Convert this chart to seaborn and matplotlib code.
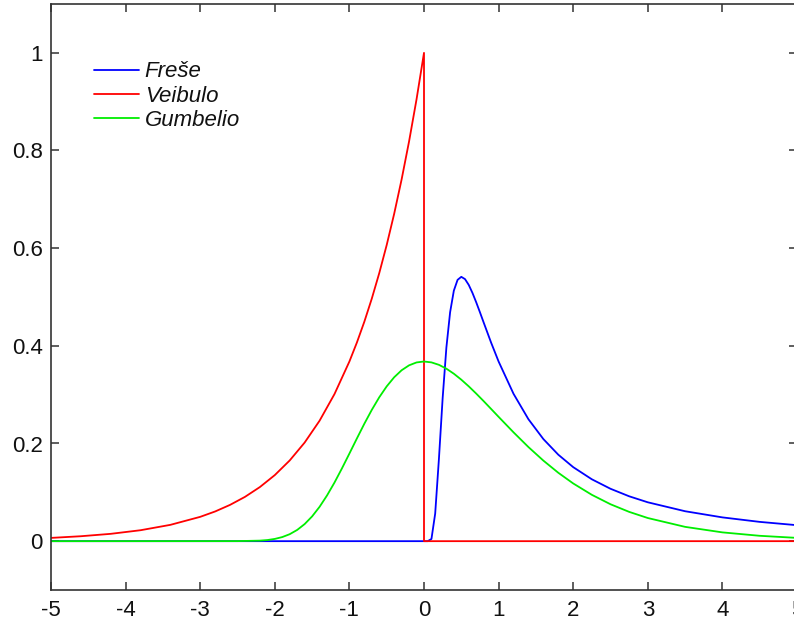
import matplotlib
matplotlib.use("Agg")
import matplotlib.pyplot as plt
import seaborn as sns
import pandas as pd

# ---- data ----
frechet_x = [-5, 0, 0.05, 0.1, 0.15, 0.2, 0.25, 0.3, 0.35, 0.4, 0.45, 0.5, 0.55, 0.6,
             0.65, 0.7, 0.75, 0.8, 0.9, 1.0, 1.2, 1.4, 1.6, 1.8, 2.0, 2.25, 2.5, 2.75,
             3.0, 3.5, 4.0, 4.5, 5.0]
frechet_y = [0, 0, 0.0, 0.0045, 0.0566, 0.1684, 0.2930, 0.3964, 0.4688, 0.5130, 0.5351,
             0.5413, 0.5366, 0.5247, 0.5082, 0.4891, 0.4687, 0.4477, 0.4064, 0.3679,
             0.3018, 0.2497, 0.2091, 0.1771, 0.1516, 0.1267, 0.1073, 0.0919, 0.0796,
             0.0613, 0.0487, 0.0395, 0.0327]

weibull_x = [-5, -4.6, -4.2, -3.8, -3.4, -3.0, -2.8, -2.6, -2.4, -2.2, -2.0, -1.8, -1.6,
             -1.4, -1.2, -1.0, -0.9, -0.8, -0.7, -0.6, -0.5, -0.4, -0.3, -0.2, -0.1,
             0.0, 0.0, 5.0]
weibull_y = [0.0067, 0.0101, 0.0150, 0.0224, 0.0334, 0.0498, 0.0608, 0.0743, 0.0907,
             0.1108, 0.1353, 0.1653, 0.2019, 0.2466, 0.3012, 0.3679, 0.4066, 0.4493,
             0.4966, 0.5488, 0.6065, 0.6703, 0.7408, 0.8187, 0.9048, 1.0, 0.0, 0.0]

gumbel_x = [-5, -2.5, -2.2, -2.1, -2.0, -1.9, -1.8, -1.7, -1.6, -1.5, -1.4, -1.3, -1.2,
            -1.1, -1.0, -0.9, -0.8, -0.7, -0.6, -0.5, -0.4, -0.3, -0.2, -0.1, 0.0, 0.1,
            0.2, 0.3, 0.4, 0.5, 0.6, 0.7, 0.8, 0.9, 1.0, 1.2, 1.4, 1.6, 1.8, 2.0, 2.25,
            2.5, 2.75, 3.0, 3.5, 4.0, 4.5, 5.0]
gumbel_y = [0.0, 0.0001, 0.0011, 0.0023, 0.0046, 0.0084, 0.0143, 0.0230, 0.0350, 0.0507,
            0.0703, 0.0936, 0.1200, 0.1490, 0.1794, 0.2102, 0.2404, 0.2688, 0.2946,
            0.3170, 0.3356, 0.3500, 0.3601, 0.3660, 0.3679, 0.3661, 0.3611, 0.3532,
            0.3429, 0.3307, 0.3170, 0.3022, 0.2867, 0.2707, 0.2546, 0.2229, 0.1927,
            0.1650, 0.1401, 0.1182, 0.0949, 0.0756, 0.0600, 0.0474, 0.0293, 0.0180,
            0.0110, 0.0067]

labels = ["Freše", "Veibulo", "Gumbelio"]
colors = ["#0000ff", "#ff0000", "#00ee00"]
x_ticks = [-5, -4, -3, -2, -1, 0, 1, 2, 3, 4, 5]
y_ticks = [0, 0.2, 0.4, 0.6, 0.8, 1]

# ---- plotting ----
sns.set_style("ticks")
plt.rcParams["font.family"] = ["Liberation Sans", "DejaVu Sans"]
plt.rcParams["axes.unicode_minus"] = False

fig = plt.figure(figsize=(7.94, 6.23), dpi=100)
ax = fig.add_axes([51 / 794, 33 / 623, 746 / 794, 586 / 623])

series = [(frechet_x, frechet_y), (weibull_x, weibull_y), (gumbel_x, gumbel_y)]
for (xs, ys), lab, col in zip(series, labels, colors):
    df = pd.DataFrame({"x": xs, "y": ys})
    sns.lineplot(data=df, x="x", y="y", ax=ax, color=col, lw=1.3,
                 sort=False, estimator=None, label=lab)

ax.set_xlim(-5, 5)
ax.set_ylim(-0.1, 1.1)
ax.set_xticks(x_ticks)
ax.set_xticklabels([str(t) for t in x_ticks])
ax.set_yticks(y_ticks)
ax.set_yticklabels(["0", "0.2", "0.4", "0.6", "0.8", "1"])
ax.set_xlabel("")
ax.set_ylabel("")

for sp in ax.spines.values():
    sp.set_visible(True)
    sp.set_color("#333333")
    sp.set_linewidth(1.2)

ax.tick_params(axis="both", direction="in", length=6, width=1.1, color="#333333",
               labelsize=16, labelcolor="#111111", top=True, right=True)
ax.tick_params(axis="x", pad=7)
ax.tick_params(axis="y", pad=6)

leg = ax.legend(loc="upper left", bbox_to_anchor=(0.057, 0.902), frameon=False,
                borderpad=0, borderaxespad=0, handlelength=2.05, handletextpad=0.25,
                labelspacing=0.15, prop={"style": "italic", "size": 16})
for t in leg.get_texts():
    t.set_color("#111111")

fig.savefig("out.png", dpi=100)
